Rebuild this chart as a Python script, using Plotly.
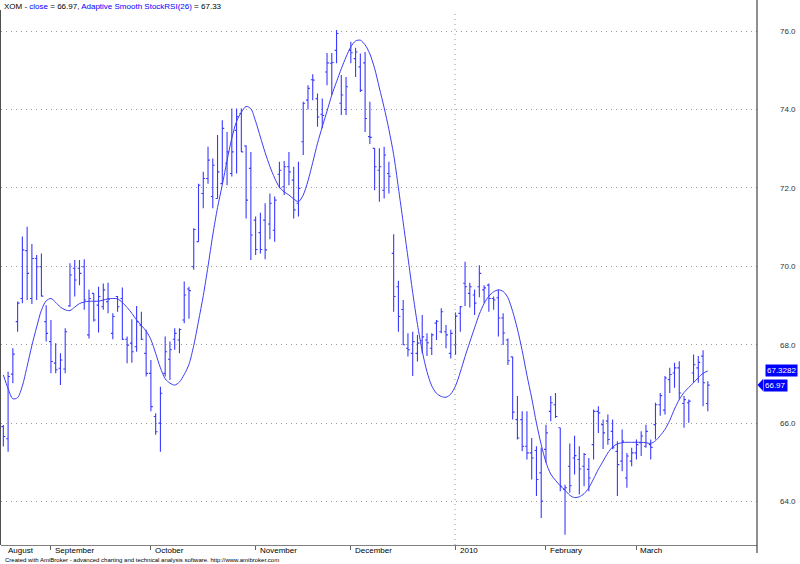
import plotly.graph_objects as go
import pandas as pd

# ---- data ----
holidays = ["2009-09-07", "2009-11-26", "2009-12-25", "2010-01-01", "2010-01-18", "2010-02-15"]
dates = [d for d in pd.bdate_range("2009-08-18", "2010-03-22") if d.strftime("%Y-%m-%d") not in holidays]

open_ = [65.91, 65.6, 67.25, 68.59, 69.18, 70.4, 69.18, 70.2, 69.99, 68.59,
         68.08, 67.53, 67.40, 67.38, 68.99, 69.95, 69.95, 69.99, 68.25, 69.31,
         69.01, 68.97, 69.10, 68.29, 69.23, 69.18, 68.14, 68.04, 67.95, 68.50,
         67.78, 67.27, 66.17, 66.00, 67.27, 67.63, 68.14, 68.12, 68.63, 69.42,
         69.99, 70.63, 71.86, 72.24, 71.78, 71.73, 72.11, 72.63, 72.37, 73.47,
         73.90, 73.07, 72.5, 71.18, 70.86, 71.18, 71.08, 70.92, 72.35, 72.03,
         72.54, 72.20, 71.61, 73.18, 74.24, 74.76, 74.28, 73.88, 74.96, 75.18,
         75.51, 74.16, 74.00, 75.51, 75.30, 75.09, 75.19, 73.31, 73.01, 72.45,
         71.94, 72.37, 70.33, 69.48, 68.9, 67.91, 67.78, 67.78, 68.1, 68.12,
         67.91, 68.55, 68.33, 68.33, 67.78, 68.0, 68.80, 69.57, 69.31, 69.27,
         69.48, 69.40, 69.52, 69.18, 69.2, 68.68, 68.12, 67.69, 66.09, 66.09,
         65.41, 65.24, 65.3, 64.73, 65.33, 66.30, 66.47, 65.88, 64.31, 64.90,
         65.11, 65.07, 64.9, 64.82, 65.45, 66.30, 65.96, 66.05, 65.79, 65.28,
         65.03, 64.60, 65.03, 65.24, 65.50, 65.41, 65.45, 65.96, 66.47, 66.33,
         67.11, 67.28, 67.41, 66.5, 66.52, 67.28, 67.41, 67.71, 66.50]

high = [65.95, 67.31, 67.91, 69.10, 70.76, 71.01, 70.57, 70.29, 70.33, 69.01,
        68.63, 68.04, 67.78, 68.42, 70.08, 70.16, 70.16, 70.18, 69.41, 69.31,
        69.48, 69.56, 69.58, 68.80, 69.24, 69.46, 68.21, 68.65, 68.99, 68.84,
        68.38, 67.61, 66.25, 66.93, 68.21, 68.08, 68.42, 68.42, 69.61, 69.48,
        70.97, 72.11, 72.41, 73.05, 72.75, 73.35, 73.73, 73.43, 74.03, 74.03,
        74.03, 73.09, 72.92, 71.27, 71.37, 71.61, 71.86, 71.78, 72.67, 72.69,
        72.92, 72.54, 72.67, 74.20, 74.62, 74.90, 74.41, 74.28, 75.44, 75.44,
        76.03, 74.88, 74.83, 75.73, 75.58, 75.43, 75.47, 74.20, 73.01, 73.01,
        73.05, 72.67, 70.82, 69.63, 69.14, 68.29, 68.33, 68.25, 68.76, 68.29,
        68.29, 68.63, 68.93, 68.50, 68.38, 68.82, 68.99, 70.12, 69.58, 69.41,
        70.03, 69.52, 69.56, 69.23, 69.40, 68.80, 68.16, 67.69, 66.69, 66.30,
        66.30, 65.62, 65.41, 65.37, 65.96, 66.69, 66.77, 65.88, 64.43, 65.48,
        65.68, 65.41, 65.24, 65.11, 66.35, 66.43, 66.09, 66.22, 66.09, 65.54,
        65.84, 65.24, 65.37, 65.58, 65.79, 65.96, 65.58, 66.52, 66.77, 67.20,
        67.41, 67.54, 67.58, 66.69, 66.60, 67.75, 67.71, 67.86, 67.07]

low = [65.40, 65.27, 67.02, 68.33, 69.06, 69.14, 69.04, 69.14, 69.23, 68.08,
       67.27, 67.27, 66.97, 67.27, 68.97, 69.23, 69.52, 68.89, 68.16, 68.59,
       68.31, 68.89, 68.80, 68.14, 68.84, 68.12, 67.53, 67.54, 67.82, 68.12,
       67.19, 66.30, 65.70, 65.27, 67.19, 67.10, 67.87, 67.78, 68.55, 68.66,
       69.91, 70.63, 71.48, 72.11, 71.48, 71.73, 72.11, 72.07, 72.29, 72.37,
       72.92, 71.22, 70.16, 70.29, 70.33, 70.18, 70.69, 70.63, 71.99, 71.82,
       72.07, 71.22, 71.27, 72.84, 74.00, 74.24, 73.56, 73.52, 74.62, 74.37,
       75.18, 73.86, 73.86, 75.18, 74.83, 74.45, 73.43, 73.12, 71.94, 71.65,
       71.73, 71.86, 68.84, 68.33, 67.99, 67.70, 67.20, 67.57, 67.78, 67.71,
       67.74, 68.12, 68.29, 67.91, 67.65, 67.74, 68.33, 68.99, 68.95, 68.76,
       69.21, 69.06, 68.84, 68.89, 68.21, 67.99, 67.48, 66.09, 65.58, 65.28,
       65.07, 64.56, 64.14, 63.58, 64.99, 66.05, 66.13, 64.26, 63.15, 64.22,
       64.69, 64.18, 64.39, 64.26, 65.07, 65.75, 65.34, 65.45, 65.33, 64.14,
       64.77, 64.35, 64.90, 65.07, 65.16, 65.37, 65.07, 65.58, 66.19, 66.22,
       66.77, 66.90, 66.60, 65.88, 66.01, 67.03, 67.03, 66.43, 66.30]

close = [65.66, 67.19, 67.76, 69.06, 70.42, 69.82, 70.20, 69.99, 69.24, 68.29,
         67.57, 67.36, 67.61, 68.33, 69.78, 69.65, 69.82, 69.14, 69.18, 68.63,
         69.23, 69.40, 69.16, 68.72, 68.97, 68.14, 67.99, 67.82, 68.59, 68.14,
         67.27, 66.42, 65.78, 66.76, 67.82, 67.87, 68.29, 68.39, 69.27, 69.38,
         70.94, 72.07, 72.24, 72.71, 72.58, 72.41, 73.52, 72.92, 72.92, 73.82,
         72.92, 71.69, 70.8, 70.43, 70.43, 70.42, 71.61, 71.69, 72.45, 72.54,
         72.41, 71.44, 71.99, 74.16, 74.54, 74.75, 73.81, 73.85, 75.19, 75.2,
         75.94, 74.37, 74.58, 75.45, 75.47, 74.49, 73.77, 73.29, 72.54, 72.54,
         72.84, 72.30, 69.23, 68.72, 68.0, 67.87, 68.08, 68.04, 68.2, 68.05,
         68.25, 68.60, 68.84, 68.25, 68.29, 68.73, 68.97, 69.48, 69.48, 69.06,
         69.82, 69.45, 69.18, 69.14, 68.68, 68.30, 67.59, 66.28, 65.62, 65.41,
         65.24, 65.11, 64.56, 64.01, 65.75, 66.52, 66.17, 64.39, 64.35, 64.4,
         65.17, 64.83, 65.2, 64.60, 66.3, 66.26, 65.75, 65.58, 65.37, 64.94,
         65.54, 65.16, 65.24, 65.45, 65.67, 65.79, 65.38, 66.47, 66.70, 67.15,
         67.24, 67.41, 66.77, 66.6, 66.56, 67.49, 67.55, 67.03, 66.97]

smooth_rsi = [67.23, 66.88, 66.62, 66.65, 66.95, 67.45, 67.98, 68.45, 68.88, 69.12,
              69.18, 69.08, 68.96, 68.89, 68.87, 68.96, 69.05, 69.09, 69.11, 69.11,
              69.11, 69.14, 69.17, 69.18, 69.17, 69.08, 68.95, 68.80, 68.63, 68.49,
              68.35, 68.13, 67.78, 67.41, 67.13, 67.02, 66.97, 67.05, 67.24, 67.50,
              67.98, 68.60, 69.25, 70.00, 70.80, 71.50, 72.08, 72.70, 73.27, 73.70,
              73.93, 74.08, 74.02, 73.70, 73.30, 72.90, 72.55, 72.25, 72.02, 71.90,
              71.82, 71.72, 71.65, 71.82, 72.18, 72.65, 73.14, 73.56, 73.96, 74.37,
              74.71, 75.04, 75.34, 75.60, 75.75, 75.77, 75.65, 75.42, 75.05, 74.55,
              74.05, 73.49, 72.85, 72.00, 71.12, 70.23, 69.33, 68.52, 67.84, 67.31,
              66.95, 66.76, 66.68, 66.66, 66.74, 66.95, 67.30, 67.70, 68.07, 68.43,
              68.78, 69.05, 69.24, 69.35, 69.40, 69.36, 69.20, 68.85, 68.40, 67.85,
              67.22, 66.64, 66.00, 65.45, 65.00, 64.70, 64.54, 64.40, 64.29, 64.16,
              64.10, 64.12, 64.20, 64.35, 64.58, 64.82, 65.03, 65.24, 65.39, 65.47,
              65.50, 65.51, 65.51, 65.51, 65.51, 65.50, 65.48, 65.55, 65.68, 65.84,
              66.07, 66.36, 66.60, 66.78, 66.91, 67.03, 67.16, 67.27, 67.33]

y_ticks = [64, 66, 68, 70, 72, 74, 76]
last_close_label = "66.97"
last_rsi_label = "67.3282"
title_symbol = "XOM"

# ---- figure ----
xs = list(range(1, len(dates) + 1))
month_starts = []
month_names = []
for i, d in enumerate(dates):
    if i == 0 or d.month != dates[i - 1].month:
        month_starts.append(xs[i])
        month_names.append(str(d.year) if d.month == 1 else d.strftime("%B"))

BAR = "#3a3aff"
LINE = "#3c3cf5"
FONT = "Liberation Sans, Arial, sans-serif"

fig = go.Figure()
fig.add_trace(go.Ohlc(
    x=xs, open=open_, high=high, low=low, close=close,
    increasing=dict(line=dict(color=BAR, width=1.1)),
    decreasing=dict(line=dict(color=BAR, width=1.1)),
    tickwidth=0.4, hoverinfo="skip", showlegend=False,
))
fig.add_trace(go.Scatter(
    x=xs, y=smooth_rsi, mode="lines",
    line=dict(color=LINE, width=1, shape="spline", smoothing=0.8),
    hoverinfo="skip", showlegend=False,
))

L_PX, R_PX, T_PX, B_PX = 1, 757, 10, 545
W = R_PX - L_PX
H = B_PX - T_PX


def px_to_paper_x(px):
    return (px - L_PX) / W


def px_to_paper_y(py):
    return (B_PX - py) / H


fig.update_layout(
    width=800, height=564,
    margin=dict(l=L_PX, r=800 - R_PX, t=T_PX, b=564 - B_PX, pad=0),
    paper_bgcolor="white", plot_bgcolor="white",
    font=dict(family=FONT, size=8, color="#222222"),
    xaxis=dict(
        range=[0.51, 159.33], showgrid=False, zeroline=False,
        showline=True, linecolor="#808080", linewidth=1,
        ticks="outside", ticklen=4, tickcolor="#606060",
        tickvals=month_starts[1:], showticklabels=False,
        rangeslider=dict(visible=False), fixedrange=True,
    ),
    yaxis=dict(
        side="right", range=[62.89, 76.54],
        tickvals=y_ticks, ticktext=[f"{v:.1f}" for v in y_ticks],
        showgrid=True, gridcolor="#9a9a9a", gridwidth=1, griddash="1px,4px",
        zeroline=False, showline=False, ticks="", ticklabelstandoff=22,
        tickfont=dict(family=FONT, size=8, color="#333333"), fixedrange=True,
    ),
)

shapes = []
# vertical year separator
shapes.append(dict(type="line", xref="x", yref="paper", x0=95.9, x1=95.9, y0=0, y1=1,
                   line=dict(color="#9a9a9a", width=1, dash="1px,4px")))
# right axis line
shapes.append(dict(type="line", xref="paper", yref="paper", x0=px_to_paper_x(757), x1=px_to_paper_x(757),
                   y0=px_to_paper_y(553), y1=px_to_paper_y(0), line=dict(color="#202020", width=1)))
# left border
shapes.append(dict(type="line", xref="paper", yref="paper", x0=px_to_paper_x(0.5), x1=px_to_paper_x(0.5),
                   y0=0, y1=px_to_paper_y(10), line=dict(color="#505050", width=1)))
# pointer of last close label
x_tip = px_to_paper_x(757.5)
x_base = px_to_paper_x(763)
dy = 6 / (H / (76.54 - 62.89))
shapes.append(dict(type="path", xref="paper", yref="y",
                   path=f"M {x_tip} {close[-1]} L {x_base} {close[-1] + dy} L {x_base} {close[-1] - dy} Z",
                   fillcolor="#0000ff", line=dict(width=0)))
fig.update_layout(shapes=shapes)

ann = []
ann.append(dict(
    xref="paper", yref="paper", x=px_to_paper_x(2), y=px_to_paper_y(7),
    xanchor="left", yanchor="middle", showarrow=False,
    text=(f"{title_symbol} - <span style='color:#0000ff'>close</span> = {close[-1]:.2f}, "
          f"<span style='color:#0000ff'>Adaptive Smooth StockRSI(26)</span> = {smooth_rsi[-1]:.2f}"),
    font=dict(family=FONT, size=8, color="#000000"),
))
for i, (m, name) in enumerate(zip(month_starts, month_names)):
    ann.append(dict(
        xref="x", yref="paper", x=m, y=0, xanchor="left", yanchor="top",
        xshift=2 if i else 3, yshift=1, showarrow=False, text=name,
        font=dict(family=FONT, size=8, color="#000000"),
    ))
ann.append(dict(
    xref="paper", yref="paper", x=px_to_paper_x(3), y=px_to_paper_y(559.5),
    xanchor="left", yanchor="middle", showarrow=False,
    text="Created with AmiBroker - advanced charting and technical analysis software. http://www.amibroker.com",
    font=dict(family=FONT, size=6, color="#000000"),
))
ann.append(dict(
    xref="paper", yref="y", x=px_to_paper_x(765), y=smooth_rsi[-1], xanchor="left", yanchor="middle",
    showarrow=False, text=last_rsi_label, bgcolor="#0000ff", borderpad=1,
    font=dict(family=FONT, size=8, color="#ffffff"),
))
ann.append(dict(
    xref="paper", yref="y", x=px_to_paper_x(763), y=close[-1], xanchor="left", yanchor="middle",
    showarrow=False, text=last_close_label, bgcolor="#0000ff", borderpad=1,
    font=dict(family=FONT, size=8, color="#ffffff"),
))
fig.update_layout(annotations=ann)

fig.write_html("out.html", config={"displayModeBar": False, "staticPlot": True},
               post_script="document.body.style.margin='0';document.body.style.overflow='hidden';")
